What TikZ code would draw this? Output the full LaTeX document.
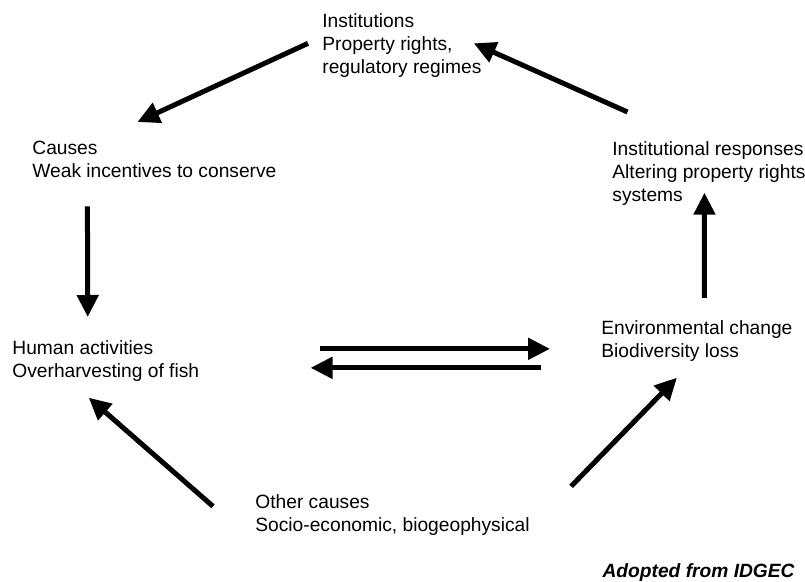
\documentclass[tikz,border=0pt]{standalone}
\usepackage{fontspec}
\setmainfont{Liberation Sans}
\usepackage{tikz}
\usetikzlibrary{arrows.meta}

\begin{document}
\begin{tikzpicture}[x=0.5pt, y=-0.5pt,
    lbl/.style = {align=left, inner sep=0pt, anchor=north west, font=\fontsize{9.6}{11.5}\selectfont},
    arr/.style = {line width=2.5pt, -{Triangle[length=11pt, width=10.5pt]}}]
    % cycle of institutions, causes and environmental change
    \useasboundingbox (0,0) rectangle (805,582);

    \node[lbl] (inst) at (322,13) {Institutions\\Property rights,\\regulatory regimes};
    \node[lbl] (causes) at (32,141) {Causes\\Weak incentives to conserve};
    \node[lbl] (resp) at (612,141) {Institutional responses\\Altering property rights\\systems};
    \node[lbl] (human) at (12,340) {Human activities\\Overharvesting of fish};
    \node[lbl] (env) at (601,320) {Environmental change\\Biodiversity loss};
    \node[lbl] (other) at (255,494) {Other causes\\Socio-economic, biogeophysical};
    \node[inner sep=0pt, anchor=base east, font=\fontsize{9.6}{11.5}\selectfont\bfseries\itshape] (src) at (795,578) {Adopted from IDGEC};

    \draw[arr] ([shift={(-14,-2)}]inst.west) -- ([shift={(-17,-19)}]causes.north);
    \draw[arr] ([shift={(-81.5,-29)}]resp.north) -- ([shift={(-8,-2)}]inst.east);
    \draw[arr] ([shift={(-67,28)}]causes.south) -- ([shift={(-18,-23)}]human.north);
    \draw[arr] ([shift={(7.5,-22)}]env.north) -- ([shift={(-4.5,-13)}]resp.south);
    \draw[arr] ([shift={(120,-12)}]human.east) -- ([shift={(-51,8)}]env.west);
    \draw[arr] ([shift={(-60,27)}]env.west) -- ([shift={(111,7)}]human.east);
    \draw[arr] ([shift={(-42,-8.5)}]other.west) -- ([shift={(-17,16)}]human.south);
    \draw[arr] ([shift={(41,-28.5)}]other.east) -- ([shift={(-20,16)}]env.south);
\end{tikzpicture}
\end{document}
